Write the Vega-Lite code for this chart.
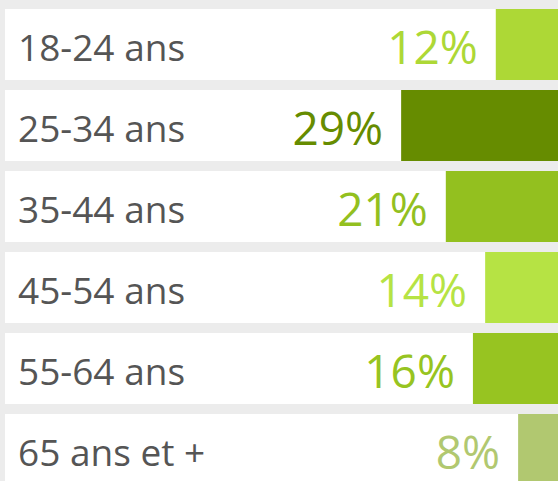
{
  "$schema": "https://vega.github.io/schema/vega-lite/v6.json",
  "width": 553,
  "height": 476,
  "autosize": {"type": "none"},
  "padding": {"left": 5, "top": 9, "right": 0, "bottom": 0},
  "background": "#ececec",
  "config": {"view": {"stroke": null}},
  "data": {
    "values": [
      {"age": "18-24 ans", "value": 11.7, "pct": "12%"},
      {"age": "25-34 ans", "value": 29.5, "pct": "29%"},
      {"age": "35-44 ans", "value": 21.1, "pct": "21%"},
      {"age": "45-54 ans", "value": 13.7, "pct": "14%"},
      {"age": "55-64 ans", "value": 16.0, "pct": "16%"},
      {"age": "65 ans et +", "value": 7.5, "pct": "8%"}
    ]
  },
  "encoding": {
    "y": {
      "field": "age",
      "type": "nominal",
      "sort": null,
      "axis": null,
      "scale": {"paddingInner": 0.1235, "paddingOuter": 0}
    }
  },
  "layer": [
    {
      "mark": {"type": "bar", "color": "white"},
      "encoding": {
        "x": {"datum": 104, "type": "quantitative", "scale": {"domain": [0, 104], "reverse": true, "nice": false}, "axis": null},
        "x2": {"datum": 0}
      }
    },
    {
      "mark": {"type": "bar"},
      "encoding": {
        "x": {"field": "value", "type": "quantitative", "axis": null, "scale": {"domain": [0, 104], "reverse": true, "nice": false}},
        "x2": {"datum": 0},
        "color": {
          "field": "age",
          "type": "nominal",
          "scale": {
            "domain": ["18-24 ans", "25-34 ans", "35-44 ans", "45-54 ans", "55-64 ans", "65 ans et +"],
            "range": ["#add836", "#668c00", "#93c01f", "#b6e344", "#97c421", "#b1c870"]
          },
          "legend": null
        }
      }
    },
    {
      "mark": {"type": "text", "align": "right", "baseline": "alphabetic", "dx": -18, "dy": 19.5, "font": "Open Sans", "fontSize": 46},
      "encoding": {
        "x": {"field": "value", "type": "quantitative", "axis": null, "scale": {"domain": [0, 104], "reverse": true, "nice": false}},
        "text": {"field": "pct"},
        "color": {"field": "age", "type": "nominal", "legend": null}
      }
    },
    {
      "mark": {"type": "text", "align": "left", "baseline": "alphabetic", "dx": 13, "dy": 16.5, "font": "Open Sans", "fontSize": 37, "color": "#555555"},
      "encoding": {
        "x": {"datum": 104, "type": "quantitative", "axis": null, "scale": {"domain": [0, 104], "reverse": true, "nice": false}},
        "text": {"field": "age"}
      }
    }
  ]
}
